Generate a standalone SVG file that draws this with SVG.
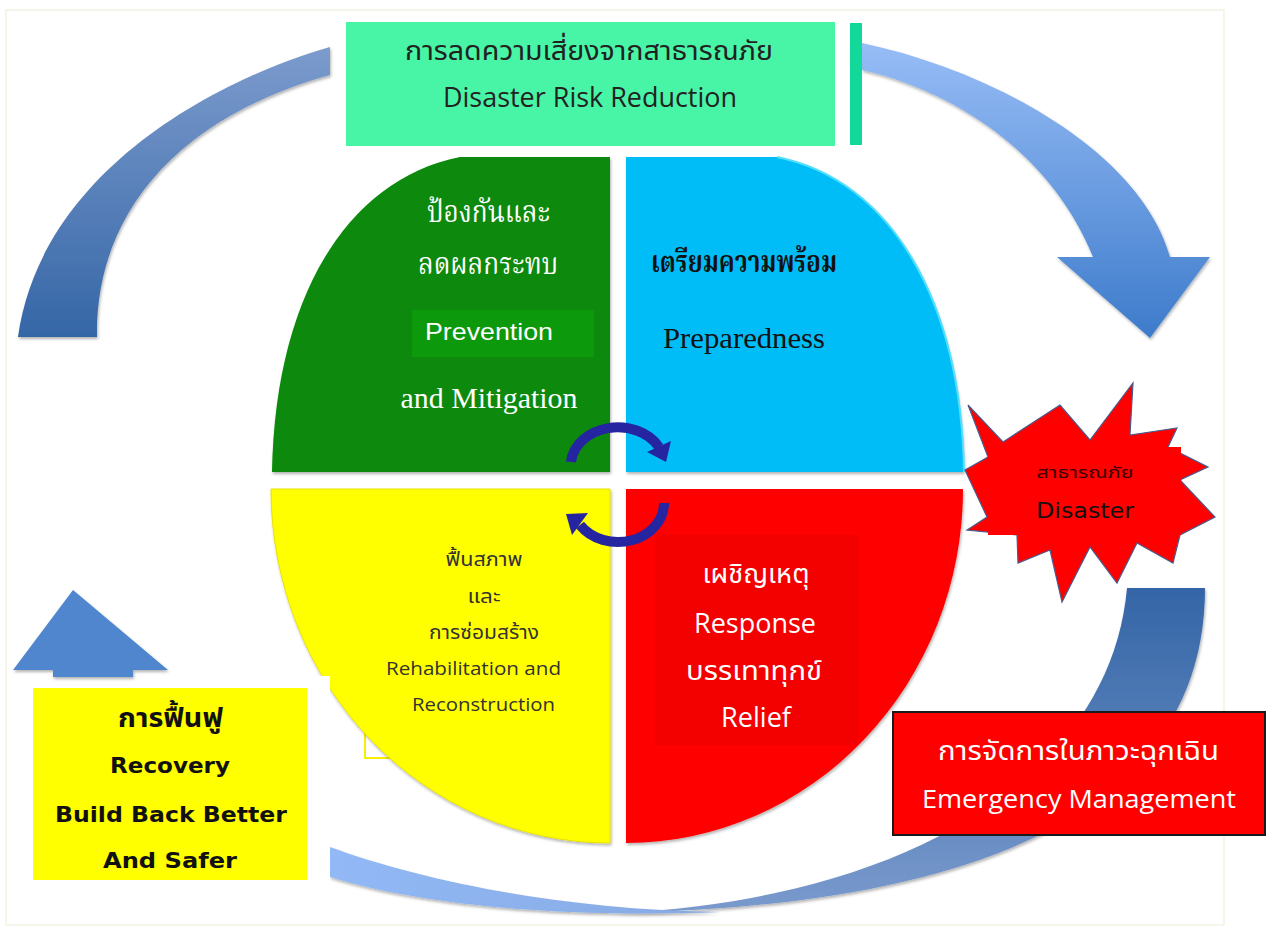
<svg xmlns="http://www.w3.org/2000/svg" width="1268" height="932" viewBox="0 0 1268 932">
<defs>
<style>
.th{font-family:'Noto Sans Thai','Leelawadee UI',Tahoma,'DejaVu Sans',sans-serif}
.ths{font-family:'Noto Serif Thai','Noto Sans Thai','Liberation Serif',serif}
.en{font-family:'Open Sans','Liberation Sans',sans-serif}
.ar{font-family:'Liberation Sans',Arial,sans-serif}
.ser{font-family:'Liberation Serif','Times New Roman',serif}
.dv{font-family:'DejaVu Sans','Noto Sans Thai',sans-serif}
text{text-anchor:middle}
.cw{stroke:#2525A2;stroke-width:10;fill:none}
.ch{fill:#2525A2}
</style>
<linearGradient id="gTL" x1="0" y1="0" x2="0" y2="1"><stop offset="0" stop-color="#7C9BCD"/><stop offset="1" stop-color="#3566A6"/></linearGradient>
<linearGradient id="gTR" x1="0" y1="0" x2="0" y2="1"><stop offset="0" stop-color="#97BDF6"/><stop offset="1" stop-color="#3D7BCB"/></linearGradient>
<linearGradient id="gBR" x1="0" y1="0" x2="0" y2="1"><stop offset="0" stop-color="#3465A6"/><stop offset="1" stop-color="#7A9ACD"/></linearGradient>
<linearGradient id="gBL" x1="0" y1="0" x2="1" y2="0"><stop offset="0" stop-color="#92B9F6"/><stop offset="1" stop-color="#86A9E2"/></linearGradient>
<filter id="sh" x="-10%" y="-10%" width="120%" height="120%"><feDropShadow dx="1" dy="2" stdDeviation="1.5" flood-color="#000" flood-opacity="0.3"/></filter>
</defs>
<rect width="1268" height="932" fill="#FFFFFF"/>
<rect x="6" y="10" width="1218" height="915" fill="none" stroke="#F2F2E4" stroke-width="1.5"/>

<g id="connectors">
  <path id="arc-top-left" filter="url(#sh)" fill="url(#gTL)" d="M330,47 C200,85 40,180 18,337 L97,337 C95,220 170,120 330,75 Z"/>
  <path id="arrow-top-right" filter="url(#sh)" fill="url(#gTR)" d="M862,43 C990,70 1140,150 1170,257 L1210,257 L1150,338 L1057,257 L1093,257 C1050,150 950,90 862,70 Z"/>
  <path id="arc-bottom-right" filter="url(#sh)" fill="url(#gBR)" d="M1127,588 L1205,588 C1205,800 1000,905 618,913 C900,900 1110,780 1127,588 Z"/>
  <path id="arc-bottom-left" filter="url(#sh)" fill="url(#gBL)" d="M330,847 C420,880 560,910 720,912 C560,918 420,905 330,877 Z"/>
  <path id="arrow-up" fill="#4F86CD" filter="url(#sh)" d="M73,590 L168,670 L133,670 L133,677 L53,677 L53,670 L13,670 Z"/>
</g>

<rect x="365" y="732" width="28" height="26" fill="#FFFFFF" stroke="#F5F000" stroke-width="2"/>

<g id="prevention">
  <path filter="url(#sh)" fill="#078A07" d="M610,157 L460,157 C345,180 275,300 272,472 L610,472 Z"/>
  <rect x="412" y="310" width="182" height="47" fill="#0C990C"/>
  <text class="ths" x="488.5" y="222" font-size="30" fill="#FFFFFF" textLength="123" lengthAdjust="spacingAndGlyphs">ป้องกันและ</text>
  <text class="ths" x="488" y="274" font-size="30" fill="#FFFFFF" textLength="140" lengthAdjust="spacingAndGlyphs">ลดผลกระทบ</text>
  <text class="ar" x="489" y="340" font-size="24" fill="#FFFFFF" textLength="128" lengthAdjust="spacingAndGlyphs">Prevention</text>
  <text class="ser" x="489" y="408" font-size="29" fill="#FFFFFF" textLength="177" lengthAdjust="spacingAndGlyphs">and Mitigation</text>
</g>

<g id="preparedness">
  <path filter="url(#sh)" fill="#05BDF8" d="M626,157 L777,157 C891,180 961,300 964,472 L626,472 Z"/>
  <path d="M777,157 C891,180 961,300 964,472" fill="none" stroke="#52DFFF" stroke-width="2"/>
  <text class="ths" x="744" y="272" font-size="30" font-weight="bold" fill="#111111" textLength="186" lengthAdjust="spacingAndGlyphs">เตรียมความพร้อม</text>
  <text class="ser" x="744" y="348" font-size="30" fill="#111111" textLength="162" lengthAdjust="spacingAndGlyphs">Preparedness</text>
</g>

<g id="rehabilitation">
  <path filter="url(#sh)" fill="#FFFF00" stroke="#E8E200" stroke-width="1" d="M610,489 L271,489 A339,354 0 0 0 610,843 Z"/>
  <text class="th" x="484" y="566" font-size="19" fill="#333333" textLength="77" lengthAdjust="spacingAndGlyphs">ฟื้นสภาพ</text>
  <text class="th" x="484" y="603" font-size="19" fill="#333333" textLength="33" lengthAdjust="spacingAndGlyphs">และ</text>
  <text class="th" x="484" y="639" font-size="19" fill="#333333" textLength="110" lengthAdjust="spacingAndGlyphs">การซ่อมสร้าง</text>
  <text class="en" x="473.5" y="675" font-size="19" fill="#333333" textLength="175" lengthAdjust="spacingAndGlyphs">Rehabilitation and</text>
  <text class="en" x="483.5" y="711" font-size="19" fill="#333333" textLength="143" lengthAdjust="spacingAndGlyphs">Reconstruction</text>
</g>

<g id="response">
  <path filter="url(#sh)" fill="#FF0000" d="M626,489 L963,489 A337,354 0 0 1 626,843 Z"/>
  <rect x="655" y="535" width="203" height="210" fill="#F30000"/>
  <text class="th" x="756" y="583" font-size="27" fill="#FFFFFF" textLength="107" lengthAdjust="spacingAndGlyphs">เผชิญเหตุ</text>
  <text class="en" x="755" y="633" font-size="28" fill="#FFFFFF" textLength="122" lengthAdjust="spacingAndGlyphs">Response</text>
  <text class="th" x="754" y="680" font-size="27" fill="#FFFFFF" textLength="136" lengthAdjust="spacingAndGlyphs">บรรเทาทุกข์</text>
  <text class="en" x="756" y="727" font-size="28" fill="#FFFFFF" textLength="70" lengthAdjust="spacingAndGlyphs">Relief</text>
</g>

<g id="cycle-arrows">
  <path class="cw" d="M571,462 A47,38 0 0 1 659,447"/>
  <polygon class="ch" points="647,452 671,441 666,462"/>
  <path class="cw" d="M664,503 A46,39 0 0 1 580,525"/>
  <polygon class="ch" points="588,513 572,535 566,514"/>
</g>

<g id="drr">
  <rect x="346" y="22" width="489" height="124" fill="#48F5A6"/>
  <rect x="850" y="23" width="12" height="122" fill="#12D89A"/>
  <text class="th" x="589" y="60" font-size="27" fill="#222222" textLength="368" lengthAdjust="spacingAndGlyphs">การลดความเสี่ยงจากสาธารณภัย</text>
  <text class="en" x="590" y="107" font-size="27" fill="#222222" textLength="294" lengthAdjust="spacingAndGlyphs">Disaster Risk Reduction</text>
</g>

<g id="disaster">
  <polygon fill="#FF0000" stroke="#4A5A8C" stroke-width="1.2" stroke-linejoin="miter" points="968,405 1003,442 1060,405 1090,440 1133,383 1130,435 1177,428 1168,447 1208,467 1180,480 1215,517 1180,535 1173,563 1137,543 1117,583 1090,547 1062,602 1050,550 1018,563 1017,535 967,530 987,517 965,470 988,457"/>
  <rect x="988" y="447" width="193" height="88" fill="#FF0000"/>
  <text class="th" x="1085" y="478" font-size="16" fill="#3A0000" textLength="97" lengthAdjust="spacingAndGlyphs">สาธารณภัย</text>
  <text class="dv" x="1085" y="518" font-size="22" fill="#111111" textLength="98" lengthAdjust="spacingAndGlyphs">Disaster</text>
</g>

<g id="emergency">
  <rect x="893" y="712" width="372" height="123" fill="#FF0000" stroke="#1A1A1A" stroke-width="2"/>
  <text class="th" x="1078.5" y="760" font-size="27" fill="#FFFFFF" textLength="281" lengthAdjust="spacingAndGlyphs">การจัดการในภาวะฉุกเฉิน</text>
  <text class="en" x="1079" y="808" font-size="26" fill="#FFFFFF" textLength="314" lengthAdjust="spacingAndGlyphs">Emergency Management</text>
</g>

<rect x="308" y="676" width="22" height="214" fill="#FFFFFF"/>

<g id="recovery">
  <rect x="33" y="688" width="274" height="192" fill="#FFFF00"/>
  <text class="th" x="170.5" y="727" font-size="26" font-weight="bold" fill="#111111" textLength="105" lengthAdjust="spacingAndGlyphs">การฟื้นฟู</text>
  <text class="dv" x="170" y="773" font-size="22" font-weight="bold" fill="#111111" textLength="120" lengthAdjust="spacingAndGlyphs">Recovery</text>
  <text class="dv" x="171" y="822" font-size="22" font-weight="bold" fill="#111111" textLength="232" lengthAdjust="spacingAndGlyphs">Build Back Better</text>
  <text class="dv" x="170" y="868" font-size="22" font-weight="bold" fill="#111111" textLength="134" lengthAdjust="spacingAndGlyphs">And Safer</text>
</g>
</svg>
